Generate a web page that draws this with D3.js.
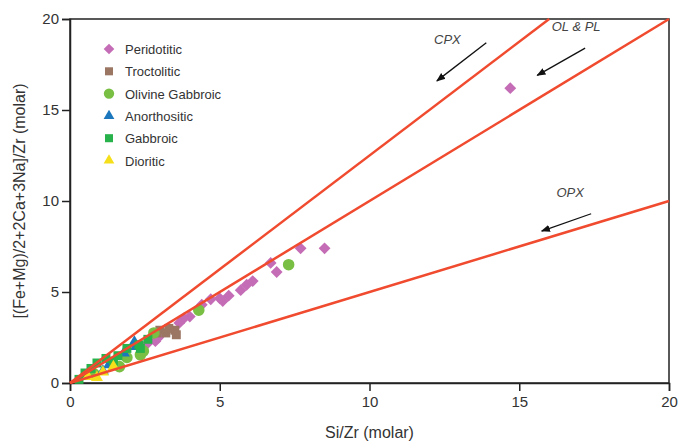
<!DOCTYPE html>
<html>
<head>
<meta charset="utf-8">
<script src="https://cdn.jsdelivr.net/npm/d3@7"></script>
<style>
  body { margin: 0; background: #fff; }
  svg { display: block; font-family: "Liberation Sans", Arial, sans-serif; }
</style>
</head>
<body>
<div id="chart"></div>
<script>
"use strict";

// category names and colours
const categories = ["Peridotitic", "Troctolitic", "Olivine Gabbroic", "Anorthositic", "Gabbroic", "Dioritic"];
const colors = ["#c46cb5", "#9a7663", "#79bf43", "#1c77bd", "#27b24b", "#f5df1a"];
const shapes = ["diamond", "square", "circle", "triangle", "square", "triangle"];

// [Si/Zr, (Fe+Mg)/2+2Ca+3Na / Zr]
const peridotitic = [
  [14.7, 16.2], [8.5, 7.4], [7.7, 7.4], [6.7, 6.6], [6.9, 6.1], [6.1, 5.6], [5.9, 5.4],
  [5.7, 5.1], [5.3, 4.8], [5.1, 4.5], [5.0, 4.65], [4.7, 4.6], [4.4, 4.3], [4.0, 3.65],
  [3.8, 3.55], [3.65, 3.3], [2.85, 2.3], [2.95, 2.5], [2.6, 2.2]
];
const troctolitic = [[3.0, 2.9], [3.2, 2.75], [3.5, 2.9], [3.55, 2.65], [3.3, 3.0], [2.9, 2.75]];
const olivineGabbroic = [[7.3, 6.5], [4.3, 4.0], [2.35, 1.55], [1.65, 0.9], [2.45, 1.75], [2.8, 2.75], [1.9, 1.4], [0.8, 0.5]];
const anorthositic = [[2.15, 2.25], [1.8, 1.65], [1.1, 0.65], [2.2, 2.0], [1.3, 1.0]];
const gabbroic = [
  [0.9, 1.1], [1.45, 1.2], [0.5, 0.55], [1.9, 1.9], [2.3, 2.1], [2.35, 1.9], [1.2, 1.35],
  [0.7, 0.8], [1.6, 1.5], [2.6, 2.4], [0.3, 0.2]
];
const dioritic = [[1.45, 0.9], [0.9, 0.3], [0.6, 0.35], [1.1, 0.6]];
const seriesData = [peridotitic, troctolitic, olivineGabbroic, anorthositic, gabbroic, dioritic];

// reference lines through the origin (slopes)
const refSlopes = [1.25, 1, 0.5];
const xTicks = [0, 5, 10, 15, 20];
const yTicks = [0, 5, 10, 15, 20];

// mineral vectors: label, label position, arrow start, arrow end
const vectors = [
  { label: "CPX", at: [12.6, 18.6], from: [13.9, 18.7], to: [12.25, 16.6] },
  { label: "OL & PL", at: [16.9, 19.35], from: [17.2, 18.4], to: [15.6, 16.9] },
  { label: "OPX", at: [16.7, 10.2], from: [17.4, 9.3], to: [15.75, 8.35] }
];

const width = 682;
const height = 443;
const margin = { top: 19, right: 13, bottom: 60, left: 70 };

const svg = d3.select("#chart").append("svg")
  .attr("width", width)
  .attr("height", height);

const x = d3.scaleLinear().domain([0, 20]).range([margin.left, width - margin.right]);
const y = d3.scaleLinear().domain([0, 20]).range([height - margin.bottom, margin.top]);

///////////////////////////////////
// frame and axes
///////////////////////////////////

svg.append("rect")
  .attr("x", x(0)).attr("y", y(20))
  .attr("width", x(20) - x(0)).attr("height", y(0) - y(20))
  .attr("fill", "none").attr("stroke", "#222").attr("stroke-width", 1.5);

const xAxis = svg.append("g")
  .attr("transform", `translate(0,${y(0)})`)
  .call(d3.axisBottom(x).tickValues(xTicks).tickSize(8).tickPadding(5));
const yAxis = svg.append("g")
  .attr("transform", `translate(${x(0)},0)`)
  .call(d3.axisLeft(y).tickValues(yTicks).tickSize(8).tickPadding(3));

[xAxis, yAxis].forEach((a) => {
  a.select(".domain").attr("stroke", "#222").attr("stroke-width", 1.5);
  a.selectAll(".tick line").attr("stroke", "#222").attr("stroke-width", 1.5);
  a.selectAll(".tick text").attr("fill", "#333").style("font-size", "15px")
    .style("font-family", "'Liberation Sans', Arial, sans-serif");
});

svg.append("text")
  .attr("x", x(10)).attr("y", 438)
  .attr("text-anchor", "middle")
  .attr("fill", "#333").style("font-size", "16px")
  .text("Si/Zr (molar)");

svg.append("text")
  .attr("transform", `translate(25,${y(10)}) rotate(-90)`)
  .attr("text-anchor", "middle")
  .attr("fill", "#333").style("font-size", "16px")
  .text("[(Fe+Mg)/2+2Ca+3Na]/Zr (molar)");

///////////////////////////////////
// symbols
///////////////////////////////////

const symbolFor = (shape) => {
  if (shape === "diamond") return d3.symbol().type(d3.symbolSquare).size(70)();
  if (shape === "square") return d3.symbol().type(d3.symbolSquare).size(80)();
  if (shape === "circle") return d3.symbol().type(d3.symbolCircle).size(105)();
  return d3.symbol().type(d3.symbolTriangle).size(62)();
};
const rotFor = (shape) => (shape === "diamond" ? " rotate(45)" : "");

seriesData.forEach((data, i) => {
  svg.append("g")
    .selectAll("path")
    .data(data)
    .enter()
    .append("path")
    .attr("d", symbolFor(shapes[i]))
    .attr("transform", (d) => `translate(${x(d[0])},${y(d[1])})${rotFor(shapes[i])}`)
    .attr("fill", colors[i]);
});

///////////////////////////////////
// reference lines
///////////////////////////////////

svg.append("g")
  .selectAll("line")
  .data(refSlopes)
  .enter()
  .append("line")
  .attr("x1", x(0)).attr("y1", y(0))
  .attr("x2", (s) => x(Math.min(20, 20 / s)))
  .attr("y2", (s) => y(Math.min(20, 20 / s) * s))
  .attr("stroke", "#f04a2f")
  .attr("stroke-width", 2.5);

///////////////////////////////////
// vectors
///////////////////////////////////

svg.append("defs").append("marker")
  .attr("id", "head")
  .attr("viewBox", "0 0 10 10")
  .attr("refX", 9).attr("refY", 5)
  .attr("markerWidth", 7).attr("markerHeight", 7)
  .attr("orient", "auto")
  .append("path").attr("d", "M0,1 L10,5 L0,9 Z").attr("fill", "#111");

vectors.forEach((v) => {
  svg.append("line")
    .attr("x1", x(v.from[0])).attr("y1", y(v.from[1]))
    .attr("x2", x(v.to[0])).attr("y2", y(v.to[1]))
    .attr("stroke", "#111").attr("stroke-width", 1.3)
    .attr("marker-end", "url(#head)");
  svg.append("text")
    .attr("x", x(v.at[0])).attr("y", y(v.at[1]))
    .attr("text-anchor", "middle")
    .attr("fill", "#444")
    .style("font-size", "13px").style("font-style", "italic")
    .text(v.label);
});

///////////////////////////////////
// legend
///////////////////////////////////

const legend = svg.append("g").attr("transform", "translate(109,49)");
categories.forEach((c, i) => {
  const row = legend.append("g").attr("transform", `translate(0,${i * 22.3})`);
  row.append("path")
    .attr("d", symbolFor(shapes[i]))
    .attr("transform", "scale(0.9)" + rotFor(shapes[i]))
    .attr("fill", colors[i]);
  row.append("text")
    .attr("x", 16).attr("y", 5)
    .attr("fill", "#333")
    .style("font-size", "13px")
    .text(c);
});
</script>
</body>
</html>
